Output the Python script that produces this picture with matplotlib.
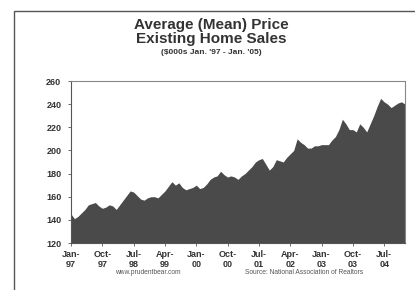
import matplotlib
matplotlib.use("Agg")
import matplotlib.pyplot as plt
from matplotlib.patches import Rectangle
import numpy as np

plt.rcParams['font.family'] = ['Liberation Sans', 'DejaVu Sans']

# average existing home price, $000s, monthly Jan-97 .. Jan-05
price = [145, 141, 143, 146, 149, 153, 154, 155, 152, 150,
         151, 153, 152, 149, 153, 157, 161, 165, 164, 161,
         158, 157, 159, 160, 160, 159, 162, 165, 169, 173,
         170, 172, 168, 166, 167, 168, 170, 167, 168, 171,
         175, 177, 178, 182, 179, 177, 178, 177, 175, 178,
         180, 183, 186, 190, 192, 193, 188, 183, 186, 192,
         191, 190, 194, 197, 200, 210, 207, 205, 202, 202,
         204, 204, 205, 205, 205, 209, 212, 218, 227, 223,
         218, 218, 216, 223, 220, 216, 223, 230, 238, 245,
         242, 240, 237, 239, 241, 242, 240]
tick_labels = ["Jan-\n97", "Oct-\n97", "Jul-\n98", "Apr-\n99", "Jan-\n00", "Oct-\n00",
               "Jul-\n01", "Apr-\n02", "Jan-\n03", "Oct-\n03", "Jul-\n04"]
yticks = [120, 140, 160, 180, 200, 220, 240, 260]

fig = plt.figure(figsize=(4.15, 2.9), dpi=100)
fig.patch.set_facecolor("white")

# outer frame (right/bottom edges are cut off in the original)
fig.patches.append(Rectangle((14/415, -0.05), 1.2, 1 - 11/290 + 0.05,
                             transform=fig.transFigure, fill=False,
                             edgecolor="#555555", lw=1.0))

ax = fig.add_axes([71/415, 1 - 243/290, (405 - 71)/415, (243 - 81)/290])
x = np.arange(len(price))
ax.fill_between(x, price, 120, color="#4a4a4a", lw=0)
ax.set_xlim(0, len(price) - 1)
ax.set_ylim(120, 260)

ax.set_yticks(yticks)
ax.set_yticklabels([str(v) for v in yticks], fontsize=6.5, fontweight="bold", color="#333333")
ax.set_xticks(x[::9])
ax.set_xticklabels(tick_labels, fontsize=6.5, fontweight="bold", color="#333333",
                   linespacing=1.1)
ax.tick_params(axis="both", length=2, width=0.6, color="#555555", pad=3)
ax.tick_params(axis="y", pad=5)

for s in ["top", "right"]:
    ax.spines[s].set_color("#888888")
    ax.spines[s].set_linewidth(0.8)
for s in ["left", "bottom"]:
    ax.spines[s].set_color("#555555")
    ax.spines[s].set_linewidth(0.8)

fig.text(0.51, 1 - 25/290, "Average (Mean) Price", ha="center", va="center",
         fontsize=11, fontweight="bold", color="#333333")
fig.text(0.51, 1 - 39/290, "Existing Home Sales", ha="center", va="center",
         fontsize=11, fontweight="bold", color="#333333")
fig.text(0.51, 1 - 53/290, "($000s Jan. '97 - Jan. '05)", ha="center", va="center",
         fontsize=6.0, fontweight="bold", color="#333333")

fig.text(148/415, 1 - 273/290, "www.prudentbear.com", ha="center", va="center",
         fontsize=4.8, color="#555555")
fig.text(304/415, 1 - 273/290, "Source: National Association of Realtors", ha="center",
         va="center", fontsize=4.8, color="#555555")

fig.savefig("out.png", dpi=100)
